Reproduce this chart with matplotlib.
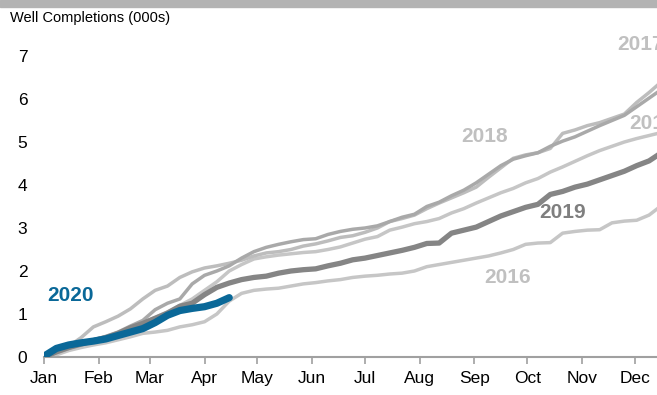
import numpy as np
import matplotlib
matplotlib.use("Agg")
import matplotlib.pyplot as plt
from matplotlib.patches import Rectangle

plt.rcParams['font.family'] = ['Liberation Sans', 'DejaVu Sans']

# cumulative well completions (000s), one value per week from Jan 1
week_day = np.arange(51) * 7

c2015 = [0, 0.08, 0.18, 0.28, 0.38, 0.45, 0.55, 0.65, 0.8, 0.92,
         1.05, 1.2, 1.35, 1.55, 1.75, 2.0, 2.15, 2.28, 2.33, 2.37,
         2.4, 2.43, 2.45, 2.5, 2.56, 2.65, 2.74, 2.8, 2.95, 3.02,
         3.1, 3.15, 3.22, 3.35, 3.45, 3.58, 3.7, 3.82, 3.92, 4.05,
         4.15, 4.3, 4.42, 4.55, 4.68, 4.8, 4.9, 5.0, 5.08, 5.15, 5.22]
c2016 = [0, 0.05, 0.15, 0.22, 0.28, 0.33, 0.4, 0.47, 0.55, 0.58,
         0.62, 0.7, 0.75, 0.82, 1.0, 1.3, 1.48, 1.55, 1.58, 1.6,
         1.65, 1.7, 1.73, 1.77, 1.8, 1.85, 1.88, 1.9, 1.93, 1.95,
         2.0, 2.1, 2.15, 2.2, 2.25, 2.3, 2.35, 2.42, 2.5, 2.62,
         2.65, 2.66, 2.88, 2.92, 2.95, 2.96, 3.12, 3.16, 3.18, 3.3, 3.52]
c2017 = [0, 0.1, 0.25, 0.45, 0.7, 0.82, 0.95, 1.12, 1.35, 1.55,
         1.65, 1.85, 1.98, 2.07, 2.12, 2.18, 2.25, 2.35, 2.42, 2.45,
         2.5, 2.58, 2.63, 2.7, 2.78, 2.82, 2.9, 3.0, 3.15, 3.22,
         3.3, 3.45, 3.58, 3.7, 3.82, 3.95, 4.18, 4.4, 4.62, 4.7,
         4.75, 4.85, 5.2, 5.28, 5.38, 5.45, 5.55, 5.65, 5.92, 6.15, 6.4]
c2018 = [0, 0.1, 0.2, 0.3, 0.4, 0.48, 0.58, 0.72, 0.85, 1.1,
         1.25, 1.35, 1.7, 1.9, 2.0, 2.12, 2.3, 2.45, 2.55, 2.62,
         2.68, 2.73, 2.75, 2.85, 2.92, 2.97, 3.0, 3.05, 3.15, 3.25,
         3.32, 3.5, 3.6, 3.75, 3.88, 4.05, 4.25, 4.45, 4.6, 4.68,
         4.75, 4.9, 5.02, 5.12, 5.25, 5.38, 5.5, 5.62, 5.82, 6.02, 6.22]
c2019 = [0, 0.12, 0.22, 0.3, 0.38, 0.45, 0.55, 0.68, 0.78, 0.9,
         1.02, 1.18, 1.25, 1.45, 1.62, 1.72, 1.8, 1.85, 1.88, 1.95,
         2.0, 2.03, 2.05, 2.12, 2.18, 2.26, 2.3, 2.36, 2.42, 2.48,
         2.55, 2.64, 2.65, 2.88, 2.95, 3.02, 3.15, 3.28, 3.38, 3.48,
         3.55, 3.78, 3.85, 3.95, 4.02, 4.12, 4.22, 4.32, 4.45, 4.56, 4.75]
c2020 = [0.02, 0.2, 0.28, 0.33, 0.37, 0.42, 0.5, 0.58, 0.66, 0.8,
         0.97, 1.08, 1.13, 1.17, 1.25, 1.38]

month_days = [0, 31, 60, 91, 121, 152, 182, 213, 244, 274, 305, 335]
month_labels = ['Jan', 'Feb', 'Mar', 'Apr', 'May', 'Jun',
                'Jul', 'Aug', 'Sep', 'Oct', 'Nov', 'Dec']

light = '#c6c6c6'
mid = '#a9a9a9'
dark = '#858585'
blue = '#0a6898'
label_grey = '#c0c0c0'

fig = plt.figure(figsize=(6.57, 3.95), dpi=100)
ax = fig.add_axes([0.067, 0.0962, 0.933, 0.8165])

# grey band along the top edge
fig.patches.append(Rectangle((0, 1 - 7 / 395), 1, 7 / 395, transform=fig.transFigure,
                             color='#b3b3b3', zorder=0))

ax.plot(week_day, c2015, color=light, lw=2.5, zorder=2)
ax.plot(week_day, c2016, color=light, lw=2.5, zorder=2)
ax.plot(week_day, c2017, color='#bdbdbd', lw=2.5, zorder=2)
ax.plot(week_day, c2018, color=mid, lw=2.5, zorder=2)
ax.plot(week_day, c2019, color=dark, lw=3.8, zorder=3)
ax.plot(week_day[:len(c2020)], c2020, color=blue, lw=5.2, zorder=4,
        solid_capstyle='round')

bold = dict(fontsize=15, fontweight='bold', va='center', clip_on=False)
ax.text(1.7, 1.42, '2020', color=blue, ha='left', **bold)
ax.text(294, 3.35, '2019', color='#7f7f7f', ha='center', **bold)
ax.text(250, 5.12, '2018', color=label_grey, ha='center', **bold)
ax.text(263, 1.84, '2016', color=label_grey, ha='center', **bold)
ax.text(325, 7.26, '2017', color=label_grey, ha='left', **bold)
ax.text(331.5, 5.44, '2015', color=label_grey, ha='left', **bold)

ax.set_xlim(0, 347.5)
ax.set_ylim(0, 7.5)
ax.set_xticks(month_days)
ax.set_xticklabels(month_labels)
ax.set_yticks(range(8))

for s in ['top', 'right', 'left']:
    ax.spines[s].set_visible(False)
ax.spines['bottom'].set_color('#a0a0a0')
ax.spines['bottom'].set_linewidth(1.5)
ax.tick_params(axis='x', length=5, width=1.2, color='#a0a0a0', pad=5, labelsize=12.5)
ax.tick_params(axis='y', length=0, pad=12, labelsize=12.5)

fig.text(10 / 657, 1 - 18 / 395, 'Well Completions (000s)', fontsize=10.5,
         ha='left', va='center')

fig.savefig('out.png', dpi=100)
